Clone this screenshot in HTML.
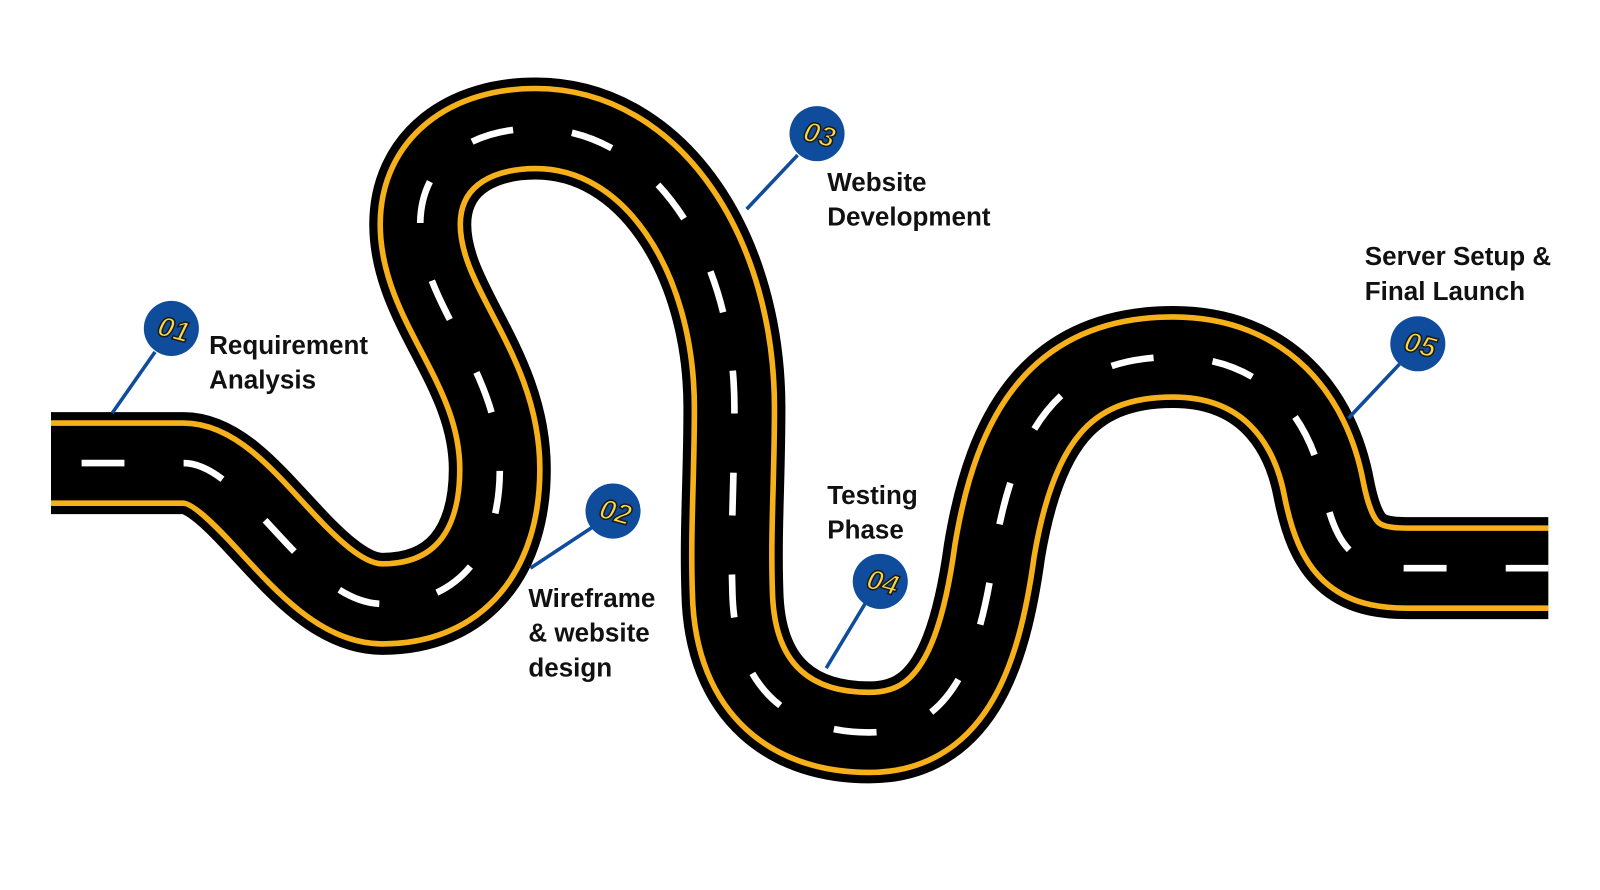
<!DOCTYPE html>
<html><head><meta charset="utf-8"><style>
html,body{margin:0;padding:0;background:#fff;}
svg{display:block}
text{font-family:"Liberation Sans",sans-serif;font-weight:bold;}
</style></head><body>
<svg width="1600" height="890" viewBox="0 0 1568.6 872.5" xmlns="http://www.w3.org/2000/svg">
<defs>
<path id="road" d="M50,454 L180,454 C240,454 300,592 375,592 C450,592 490,540 490,460 C490,360 412,300 412,220 C412,160 460,126 525,126 C640,126 720,250 720,400 C720,470 716,520 718,580 C720,680 780,718 852,718 C930,718 960,650 975,540 C995,420 1040,350 1150,350 C1240,350 1285,410 1298,480 C1310,540 1330,557 1380,557 L1518,557" fill="none"/>
</defs>
<use href="#road" stroke="#000" stroke-width="100"/>
<use href="#road" stroke="#f6b01a" stroke-width="84"/>
<use href="#road" stroke="#000" stroke-width="73"/>
<use href="#road" stroke="#fff" stroke-width="6.5" stroke-dasharray="42 58" stroke-dashoffset="-30"/>
<rect x="1518" y="500" width="60" height="120" fill="#fff"/>
<rect x="0" y="400" width="50" height="110" fill="#fff"/>

<g stroke="#0f4c9c" stroke-width="3.5">
<line x1="152" y1="345" x2="110" y2="405"/>
<line x1="582" y1="516" x2="520" y2="557"/>
<line x1="782" y1="152" x2="732" y2="205"/>
<line x1="848" y1="592" x2="810" y2="655"/>
<line x1="1372" y1="357" x2="1322" y2="410"/>
</g>
<g fill="#0f4c9c">
<circle cx="168" cy="322" r="27"/>
<circle cx="601" cy="501" r="27"/>
<circle cx="801" cy="131" r="27"/>
<circle cx="863" cy="570" r="27"/>
<circle cx="1390" cy="337" r="27"/>
</g>
<g font-size="28" fill="#f7d84a" stroke="#1a1a1a" stroke-width="1.5" font-style="italic" text-anchor="middle">
<text transform="translate(168,332) rotate(15)">01</text>
<text transform="translate(601,511) rotate(15)">02</text>
<text transform="translate(801,141) rotate(15)">03</text>
<text transform="translate(863,580) rotate(15)">04</text>
<text transform="translate(1390,347) rotate(15)">05</text>
</g>
<g font-size="25.5" fill="#111">
<text x="205" y="347">Requirement</text>
<text x="205" y="381">Analysis</text>
<text x="518" y="595">Wireframe</text>
<text x="518" y="629">&amp; website</text>
<text x="518" y="663">design</text>
<text x="811" y="187">Website</text>
<text x="811" y="221">Development</text>
<text x="811" y="494">Testing</text>
<text x="811" y="528">Phase</text>
<text x="1338" y="260">Server Setup &amp;</text>
<text x="1338" y="294">Final Launch</text>
</g>
</svg>
</body></html>
